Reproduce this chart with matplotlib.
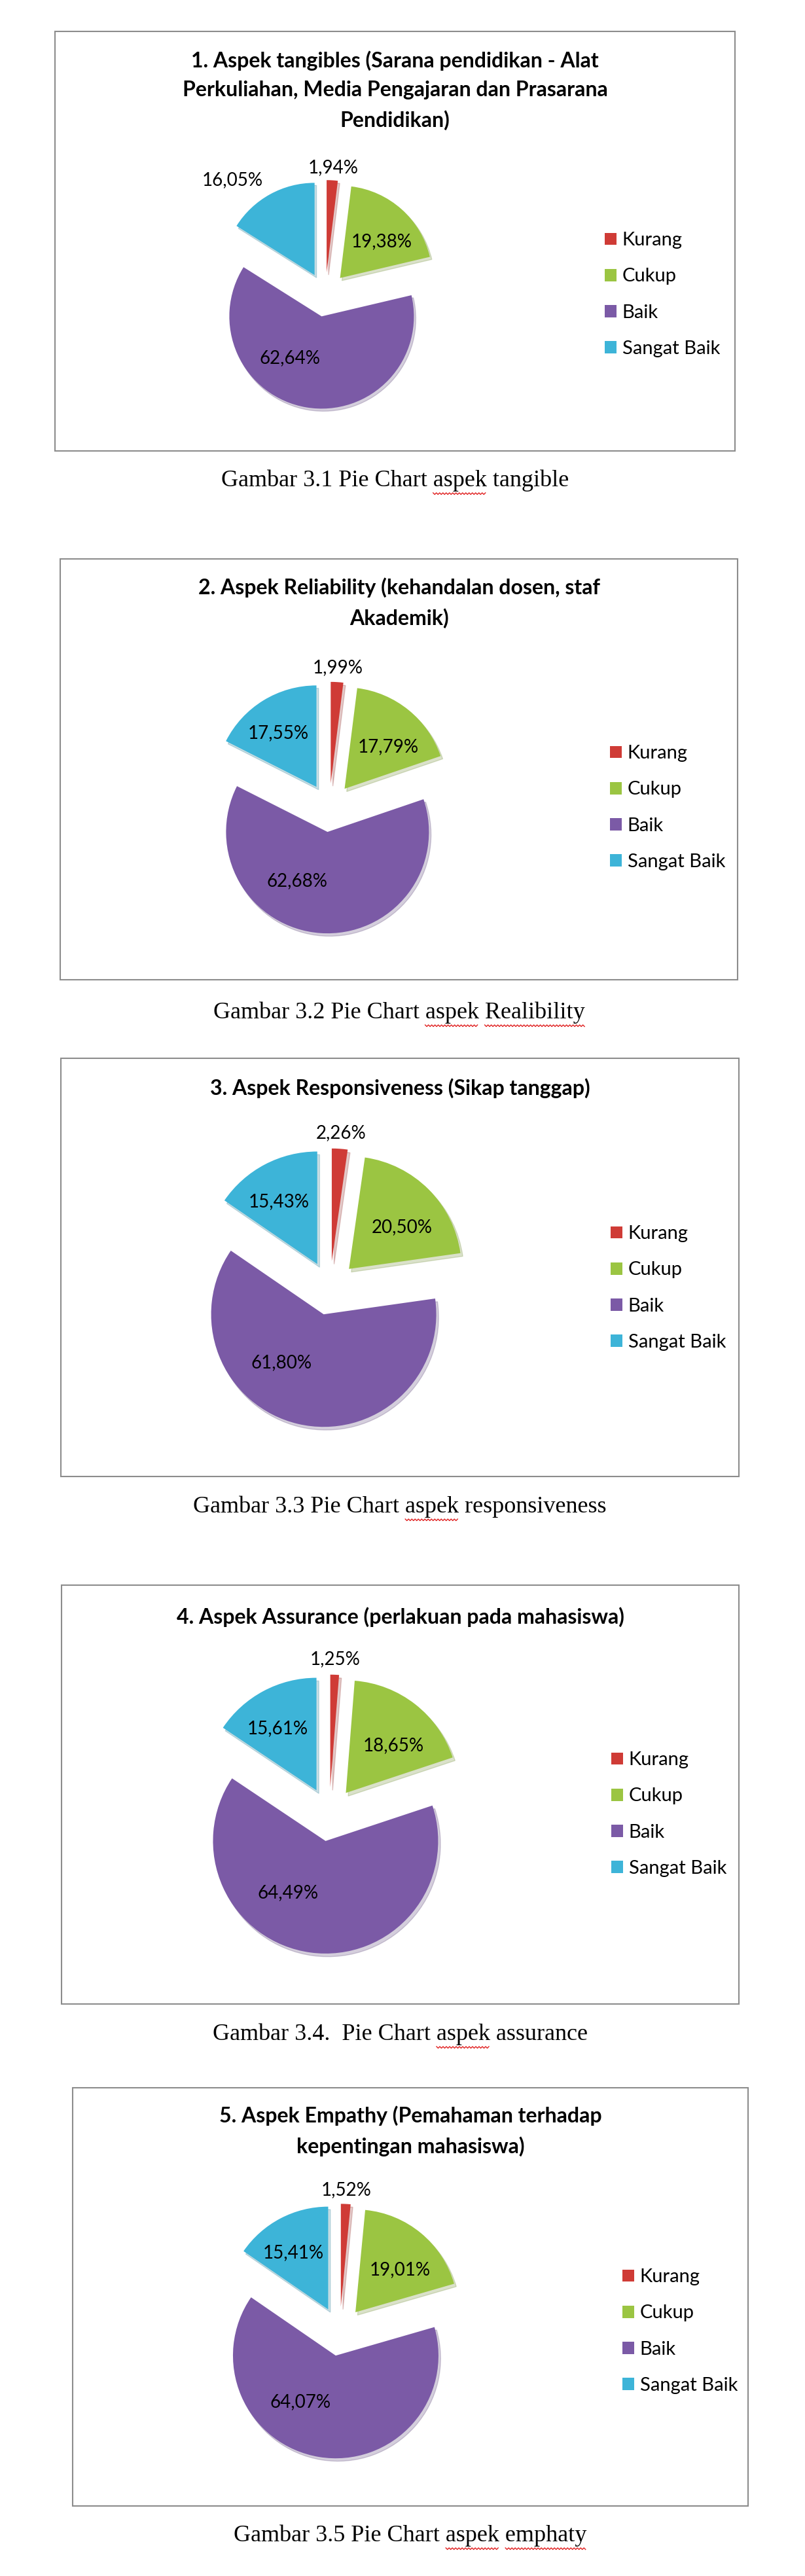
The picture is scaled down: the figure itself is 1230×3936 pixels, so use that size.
import numpy as np
import matplotlib
matplotlib.use("Agg")
import matplotlib.pyplot as plt
from matplotlib.patches import Rectangle, Patch
from matplotlib.lines import Line2D
from matplotlib.font_manager import FontProperties

# data (percent per category)
categories = ["Kurang", "Cukup", "Baik", "Sangat Baik"]
tangible = [1.94, 19.38, 62.64, 16.05]
reliability = [1.99, 17.79, 62.68, 17.55]
responsiveness = [2.26, 20.50, 61.80, 15.43]
assurance = [1.25, 18.65, 64.49, 15.61]
empathy = [1.52, 19.01, 64.07, 15.41]

titles = [
    "1. Aspek tangibles (Sarana pendidikan - Alat\nPerkuliahan, Media Pengajaran dan Prasarana\nPendidikan)",
    "2. Aspek Reliability (kehandalan dosen, staf\nAkademik)",
    "3. Aspek Responsiveness (Sikap tanggap)",
    "4. Aspek Assurance (perlakuan pada mahasiswa)",
    "5. Aspek Empathy (Pemahaman terhadap\nkepentingan mahasiswa)",
]
captions = [
    "Gambar 3.1 Pie Chart aspek tangible",
    "Gambar 3.2 Pie Chart aspek Realibility",
    "Gambar 3.3 Pie Chart aspek responsiveness",
    "Gambar 3.4.  Pie Chart aspek assurance",
    "Gambar 3.5 Pie Chart aspek emphaty",
]
# words underlined by the spell checker in the captions
flagged = [["aspek"], ["aspek", "Realibility"], ["aspek"], ["aspek"], ["aspek", "emphaty"]]
series = [tangible, reliability, responsiveness, assurance, empathy]

colors = ["#CF3B36", "#9BC542", "#7B5AA6", "#3DB4D8"]

# layout in pixels: box (left, top, right, bottom), pie centre, radius, title y, caption y
W, H = 1230, 3936
boxes = [(84, 48, 1123, 689), (92, 854, 1127, 1497), (93, 1617, 1129, 2256),
         (94, 2422, 1129, 3062), (111, 3190, 1143, 3829)]
centers = [(497, 450), (503, 1234), (504, 1968), (503, 2772), (519, 3562)]
radii = [141, 155, 172, 172, 157]
title_y = [138, 921, 1663, 2471, 3256]
caption_y = [734, 1547, 2302, 3108, 3874]

# label placement (distance in radii, clockwise shift in degrees) per category
label_rules = [(1.14, 0), (0.60, 7), (0.57, 28), (0.65, -4)]
label_override = {(0, 3): (1.36, -12)}

plt.rcParams["font.family"] = ["Lato", "DejaVu Sans"]

fig = plt.figure(figsize=(W / 100, H / 100), dpi=100)
renderer = fig.canvas.get_renderer()
cap_font = FontProperties(family="Liberation Serif", size=26)


def fx(px):
    return px / W


def fy(py):
    return 1 - py / H


def text_w(s):
    w, _, _ = renderer.get_text_width_height_descent(s, cap_font, ismath=False)
    return w


for i, vals in enumerate(series):
    l, t, r, b = boxes[i]
    fig.patches.append(Rectangle((fx(l), fy(b)), fx(r - l), (b - t) / H,
                                 transform=fig.transFigure, fill=False,
                                 edgecolor="#8c8c8c", linewidth=1.5))
    fig.text(fx((l + r) / 2), fy(title_y[i]), titles[i], ha="center", va="center",
             fontsize=23, fontweight="bold", linespacing=1.62, color="#000000")

    xc = (l + r) / 2
    fig.text(fx(xc), fy(caption_y[i]), captions[i], ha="center", va="center",
             fontproperties=cap_font, color="#000000")
    # red squiggles under flagged words
    full = text_w(captions[i])
    x_start = xc - full / 2
    for word in flagged[i]:
        pos = captions[i].index(word)
        x0 = x_start + text_w(captions[i][:pos])
        x1 = x0 + text_w(word)
        xs = np.arange(x0, x1, 2.5)
        ys = caption_y[i] + 19 + np.where(np.arange(len(xs)) % 2 == 0, 0, 2.5)
        fig.add_artist(Line2D(fx(xs), fy(ys), transform=fig.transFigure,
                              color="#E02020", linewidth=1.0))

    cx, cy = centers[i]
    rad = radii[i]
    half = 1.5 * rad
    ax = fig.add_axes([fx(cx - half), fy(cy + half), 2 * half / W, 2 * half / H])
    wedges, _ = ax.pie(vals, colors=colors, startangle=90, counterclock=False,
                       explode=[0.24] * 4, radius=1,
                       wedgeprops=dict(edgecolor="none"),
                       shadow=dict(ox=0.015, oy=-0.02, shade=0.3, alpha=0.25))
    ax.set_xlim(-1.5, 1.5)
    ax.set_ylim(-1.5, 1.5)
    ax.set_aspect("equal")

    for k, w in enumerate(wedges):
        rho, shift = label_override.get((i, k), label_rules[k])
        mid = np.deg2rad((w.theta1 + w.theta2) / 2 - shift)
        x0, y0 = w.center
        txt = f"{vals[k]:.2f}".replace(".", ",") + "%"
        ax.text(x0 + rho * w.r * np.cos(mid), y0 + rho * w.r * np.sin(mid), txt,
                ha="center", va="center", fontsize=20, color="#000000")

    handles = [Patch(facecolor=c, edgecolor="none") for c in colors]
    ax.legend(handles, categories, loc="center left",
              bbox_to_anchor=(fx(l + 840), fy(cy)), bbox_transform=fig.transFigure,
              frameon=False, fontsize=21, handlelength=0.62, handleheight=0.62,
              handletextpad=0.3, labelspacing=1.0, borderpad=0, borderaxespad=0)

fig.savefig("out.png", dpi=100, facecolor="white")
